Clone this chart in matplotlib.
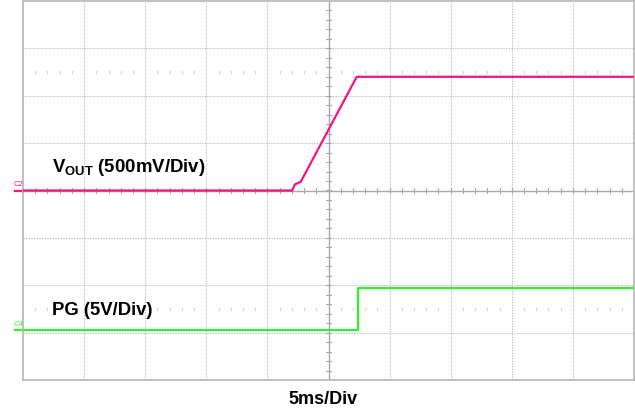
import matplotlib
matplotlib.use("Agg")
import matplotlib.pyplot as plt
import numpy as np

plt.rcParams['font.family'] = ['Liberation Sans', 'DejaVu Sans']
plt.rcParams['mathtext.fontset'] = 'custom'
plt.rcParams['mathtext.bf'] = 'Liberation Sans:bold'
plt.rcParams['mathtext.rm'] = 'Liberation Sans'

# ---- data (read from the scope capture) ----
vout_time_ms = [-25.0, -2.97, -2.75, -2.28, 2.31, 25.0]
vout_volts = [0.0, 0.0, 0.065, 0.09, 1.20, 1.20]
pg_time_ms = [-25.0, 2.44, 2.44, 25.0]
pg_volts = [0.0, 0.0, 4.5, 4.5]

vout_scale = 0.5      # V/div
vout_offset = 0.0     # div
pg_scale = 5.0        # V/div
pg_offset = -2.95     # div
time_per_div = 5.0    # ms/div

vout_label = r'$\mathbf{V_{OUT}}$ (500mV/Div)'
pg_label = 'PG (5V/Div)'
time_label = '5ms/Div'

PINK = '#F5157F'
GREEN = '#33EE33'
GRID = '#BDBDBD'
AXISC = '#A8A8A8'

fig = plt.figure(figsize=(6.35, 4.14), dpi=100)
W, H = 635, 414
ax = fig.add_axes([23 / W, (414 - 381) / H, (634 - 23) / W, (381 - 2) / H])
ax.set_xlim(-25, 25)
ax.set_ylim(-4, 4)
ax.set_xticks([])
ax.set_yticks([])
for s in ax.spines.values():
    s.set_color('#BBBBBB')
    s.set_linewidth(1.3)

# graticule
for d in range(-4, 5):
    if d == 0:
        continue
    ax.axvline(d * time_per_div, color=GRID, lw=0.8, ls=(0, (1.2, 1.2)), zorder=1)
for d in range(-3, 4):
    if d == 0:
        continue
    ax.axhline(d, color=GRID, lw=0.8, ls=(0, (1.2, 1.2)), zorder=1)
ax.axvline(0, color=AXISC, lw=1.0, zorder=1)
ax.axhline(0, color=AXISC, lw=1.0, zorder=1)

# minor ticks along center lines
xt = np.arange(-25, 25.01, 1.0)
for x in xt:
    ax.plot([x, x], [-0.055, 0.055], color=AXISC, lw=0.8, zorder=1)
    if abs(x / time_per_div - round(x / time_per_div)) > 1e-6:
        for yy in (2.5, -2.5):
            ax.plot([x, x], [yy - 0.025, yy + 0.025], color='#D2D2D2', lw=0.8, zorder=1)
yt = np.arange(-4, 4.01, 0.2)
for y in yt:
    ax.plot([-0.2, 0.2], [y, y], color=AXISC, lw=0.8, zorder=1)

# traces
vy = [v / vout_scale + vout_offset for v in vout_volts]
py = [v / pg_scale + pg_offset for v in pg_volts]
ax.plot(vout_time_ms, vy, color=PINK, lw=1.6, zorder=3, solid_joinstyle='round')
ax.plot(pg_time_ms, py, color=GREEN, lw=1.6, zorder=3)

# ground markers
ax.plot([-25.65, -25], [vout_offset, vout_offset], color=PINK, lw=1.6, clip_on=False)
ax.plot([-25.65, -25], [pg_offset, pg_offset], color=GREEN, lw=1.6, clip_on=False)
ax.text(-25.75, vout_offset + 0.07, 'C2', color=PINK, fontsize=5.5, ha='left', va='bottom', clip_on=False)
ax.text(-25.75, pg_offset + 0.07, 'C4', color=GREEN, fontsize=5.5, ha='left', va='bottom', clip_on=False)
ax.plot([25, 25.15], [1.22, 1.22], color=PINK, lw=0.8, clip_on=False)

# labels
ax.text(-22.65, 0.41, vout_label, fontsize=13.4, fontweight='bold', ha='left', va='baseline', zorder=4)
ax.text(-22.65, -2.61, pg_label, fontsize=13.3, fontweight='bold', ha='left', va='baseline', zorder=4)
fig.text(323 / W, 1 - 400 / H, time_label, fontsize=13, fontweight='bold', ha='center', va='center')

fig.savefig('out.png', dpi=100, facecolor='white')
